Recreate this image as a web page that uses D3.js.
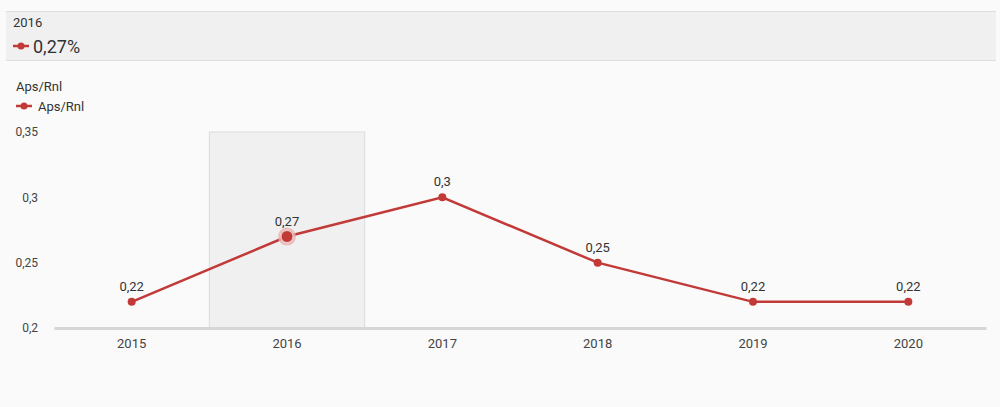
<!DOCTYPE html>
<html><head><meta charset="utf-8">
<script src="https://cdn.jsdelivr.net/npm/d3@7"></script>
<style>
body{margin:0;background:#fafafa;font-family:Roboto,"Open Sans",sans-serif;}
svg{display:block;}
</style></head>
<body><svg id="c" width="1000" height="407"></svg>
<script>
const categories = ["2015","2016","2017","2018","2019","2020"];
const values = [0.22, 0.27, 0.3, 0.25, 0.22, 0.22];
const yTicks = [0.2, 0.25, 0.3, 0.35];
const seriesName = "Aps/Rnl";
const selected = "2016";

const fmt = v => String(v).replace(".", ",");
const color = "#c23a38";
const svg = d3.select("#c");
svg.append("rect").attr("width",1000).attr("height",407).attr("fill","#fafafa");

// header panel
svg.append("rect").attr("x",6).attr("y",11).attr("width",990).attr("height",50).attr("fill","#f0f0f0");
svg.append("line").attr("x1",6).attr("x2",996).attr("y1",11.5).attr("y2",11.5).attr("stroke","#dedede");
svg.append("line").attr("x1",6).attr("x2",996).attr("y1",60.5).attr("y2",60.5).attr("stroke","#dedede");
svg.append("text").attr("x",13).attr("y",27).attr("font-size",13).attr("fill","#333").text(selected);
const selIdx = categories.indexOf(selected);
svg.append("line").attr("x1",13).attr("x2",29).attr("y1",46).attr("y2",46).attr("stroke",color).attr("stroke-width",2.5);
svg.append("circle").attr("cx",21).attr("cy",46).attr("r",3.5).attr("fill",color);
svg.append("text").attr("x",33).attr("y",53).attr("font-size",18).attr("fill","#333").text(fmt(values[selIdx])+"%");

// title & legend
svg.append("text").attr("x",16).attr("y",91).attr("font-size",13).attr("fill","#333").text(seriesName);
svg.append("line").attr("x1",16).attr("x2",32).attr("y1",106).attr("y2",106).attr("stroke",color).attr("stroke-width",2.5);
svg.append("circle").attr("cx",24).attr("cy",106).attr("r",3.5).attr("fill",color);
svg.append("text").attr("x",38).attr("y",111).attr("font-size",13).attr("fill","#333").text(seriesName);

const x = d3.scaleBand().domain(categories).range([54,986]);
const y = d3.scaleLinear().domain([0.2,0.35]).range([328,132]);

// highlight band
svg.append("rect").attr("x",x(selected)).attr("y",y(0.35)).attr("width",x.bandwidth()).attr("height",y(0.2)-y(0.35))
  .attr("fill","#f0f0f0").attr("stroke","#dcdcdc");

// y axis labels
const ya = svg.append("g").attr("transform","translate(38,0)")
  .call(d3.axisLeft(y).tickValues(yTicks).tickFormat(fmt).tickSize(0).tickPadding(0));
ya.select(".domain").remove();
ya.selectAll("text").attr("font-size",12).attr("fill","#444").attr("font-family","Roboto,sans-serif");

// x axis
const xa = svg.append("g").attr("transform","translate(0,328)")
  .call(d3.axisBottom(x).tickSize(0).tickPadding(11));
xa.select(".domain").attr("stroke","#d6d6d6").attr("stroke-width",3);
xa.selectAll("text").attr("font-size",13).attr("fill","#444").attr("font-family","Roboto,sans-serif");

const cx = c => x(c) + x.bandwidth()/2;
const data = categories.map((c,i)=>({c, v: values[i]}));
svg.append("path").datum(data)
  .attr("d", d3.line().x(d=>cx(d.c)).y(d=>y(d.v)))
  .attr("fill","none").attr("stroke",color).attr("stroke-width",2.5);

svg.selectAll(".halo").data(data.filter(d=>d.c===selected)).enter().append("circle")
  .attr("cx",d=>cx(d.c)).attr("cy",d=>y(d.v)).attr("r",9).attr("fill","#e8b4b3").attr("opacity",0.8);
svg.selectAll(".pt").data(data).enter().append("circle")
  .attr("cx",d=>cx(d.c)).attr("cy",d=>y(d.v)).attr("r",d=>d.c===selected?6:4).attr("fill",color)
  .attr("stroke",d=>d.c===selected?"#f3d6d6":"none").attr("stroke-width",1);

svg.selectAll(".lbl").data(data).enter().append("text")
  .attr("x",d=>cx(d.c)).attr("y",d=>y(d.v)-11).attr("text-anchor","middle")
  .attr("font-size",13).attr("fill","#333").text(d=>fmt(d.v));
</script></body></html>
